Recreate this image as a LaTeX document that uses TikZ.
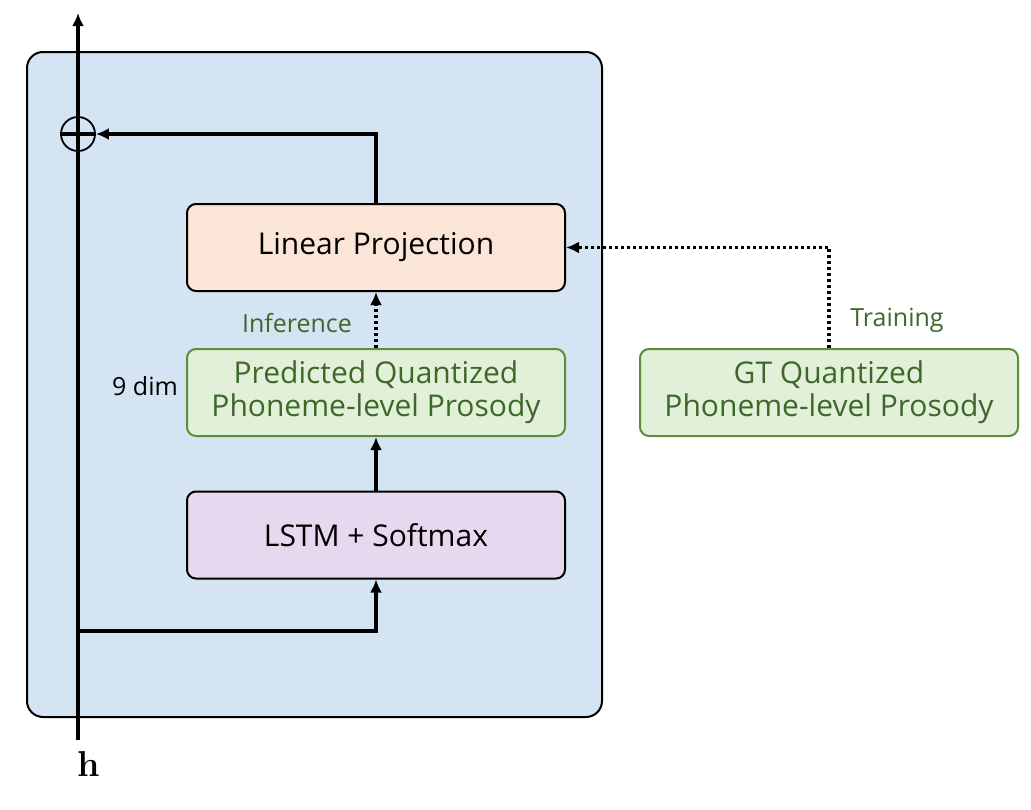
\documentclass[tikz,border=0pt]{standalone}
\usepackage{fontspec}
\newfontfamily\blockfont{Open Sans}
\usepackage{tikz}
\usetikzlibrary{arrows.meta,calc}
\usepackage{xcolor}
\definecolor{encfill}{RGB}{212,228,242}
\definecolor{projfill}{RGB}{251,229,214}
\definecolor{lstmfill}{RGB}{232,216,239}
\definecolor{prosfill}{RGB}{226,240,217}
\definecolor{prosline}{RGB}{95,140,60}
\definecolor{prostext}{RGB}{62,104,42}

\begin{document}
\begin{tikzpicture}[x=1pt, y=-1pt,
  box node/.style={rectangle, rounded corners=9, draw, line width=2, minimum width=378, minimum height=87, align=center, font=\blockfont\fontsize{30}{33}\selectfont},
  proj node/.style={box node, fill=projfill},
  lstm node/.style={box node, fill=lstmfill},
  pros node/.style={box node, fill=prosfill, draw=prosline, text=prostext},
  label node/.style={font=\blockfont\fontsize{25}{28}\selectfont, text=prostext},
  arr/.style={line width=3.2, -{Latex[length=13,width=12]}},
  dots/.style={dash pattern=on 3 off 3}]
\useasboundingbox (0,0) rectangle (1031,809);
\node[draw, fill=encfill, line width=2, rounded corners=16, minimum width=575, minimum height=665] (enc) at (314.5,384.5) {};
\node[proj node] (lin) at (376,247.5) {\raisebox{-3pt}{Linear Projection}};
\node[pros node] (pred) at (376,392.5) {Predicted Quantized\\Phoneme-level Prosody};
\node[lstm node] (lstm) at (376,535) {LSTM + Softmax};
\node[pros node] (gt) at (829,392.5) {GT Quantized\\Phoneme-level Prosody};
\node[label node] (inf) at (297,323) {Inference};
\node[label node] (train) at (897,320) {Training};
\node[label node, text=black] (dim) at (145,386) {9 dim};
\node (h) at (89,764) {\fontsize{36}{40}\selectfont\textbf{h}};
\coordinate (hbot) at (78,740);
\coordinate (top) at (78,13);
\coordinate (split) at (78,631);
% residual path
\draw[arr] (hbot) -- (top);
\node[circle, draw, fill=encfill, line width=1.8, minimum size=34, inner sep=0] (add) at (78,134) {};
\draw[line width=4] (add.west) -- (add.east);
\draw[line width=4] (add.north) -- (add.south);
% blocks
\draw[arr] (split) -| (lstm.south);
\draw[arr] (lstm.north) -- (pred.south);
\draw[arr, dots] (pred.north) -- (lin.south);
\draw[arr, dots] (gt.north) |- (lin.east);
\draw[arr] (lin.north) |- (add.east);
\end{tikzpicture}
\end{document}
